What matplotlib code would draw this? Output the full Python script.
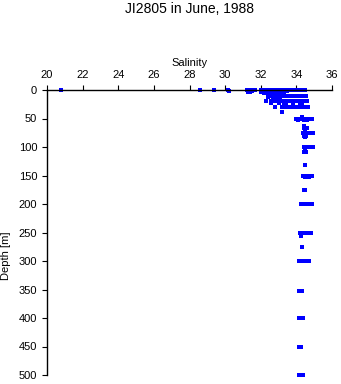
import matplotlib
matplotlib.use('Agg')
import matplotlib.pyplot as plt

plt.rcParams['font.family'] = ['Liberation Sans', 'DejaVu Sans']

# depth levels [m] and the salinities read at each level
depths = [0, 2, 4, 6, 8, 10, 12, 20, 23, 25, 30, 39, 47, 50, 53, 64, 67, 73, 76, 80, 83,
          100, 104, 108, 131, 150, 152, 175, 200, 250, 256, 275, 300, 352, 400, 450, 500]
salinities = [
    [20.8, 28.6, 29.4, 30.15, 31.2, 31.45, 31.65, 32.0, 32.15, 32.3, 32.45, 32.6, 32.75,
     32.9, 33.05, 33.2, 33.35, 33.5, 33.65, 33.8, 33.95, 34.1, 34.25, 34.4, 34.5],
    [30.2, 31.3, 31.5, 32.1, 32.3, 32.5, 32.7, 32.9, 33.1, 33.3, 33.5],
    [31.3, 31.4, 32.0, 32.2, 32.4, 32.6, 32.8, 33.0, 33.2, 33.3],
    [32.2, 32.4, 32.6, 32.8, 33.0, 33.2],
    [32.4, 32.5, 33.0, 33.1],
    [32.5, 32.6, 32.8, 33.0, 33.2, 33.4, 33.55, 33.7, 33.85, 34.0, 34.15, 34.3, 34.45, 34.55],
    [32.4, 32.7, 32.9, 33.1],
    [32.3, 32.6, 32.75, 32.9, 33.05, 33.2, 33.35, 33.5, 33.65, 33.8, 33.95, 34.1, 34.25,
     34.4, 34.55, 34.6],
    [32.6, 33.0, 33.4, 33.8, 34.3],
    [33.3, 33.4, 34.2],
    [32.8, 33.2, 33.35, 33.5, 33.65, 33.8, 33.95, 34.1, 34.25, 34.4, 34.55, 34.65],
    [33.2],
    [34.3],
    [34.0, 34.15, 34.3, 34.45, 34.6, 34.75, 34.9],
    [34.1, 34.4, 34.6],
    [34.45],
    [34.4, 34.5, 34.6],
    [34.5],
    [34.35, 34.5, 34.65, 34.8, 34.95],
    [34.45, 34.55],
    [34.5],
    [34.4, 34.55, 34.7, 34.85, 34.95],
    [34.5],
    [34.45, 34.55],
    [34.5],
    [34.35, 34.5, 34.65, 34.8, 34.9],
    [34.5, 34.7],
    [34.45, 34.5],
    [34.25, 34.4, 34.55, 34.7, 34.85, 34.9],
    [34.2, 34.35, 34.5, 34.65, 34.8],
    [34.25],
    [34.3],
    [34.15, 34.3, 34.45, 34.6, 34.7],
    [34.15, 34.3],
    [34.15, 34.3, 34.35],
    [34.15, 34.25],
    [34.15, 34.3, 34.35],
]
xticks = [20, 22, 24, 26, 28, 30, 32, 34, 36]
yticks = [0, 50, 100, 150, 200, 250, 300, 350, 400, 450, 500]

sal = []
dep = []
for d, s in zip(depths, salinities):
    sal += s
    dep += [d] * len(s)

fig = plt.figure(figsize=(3.41, 3.84), dpi=100)
ax = fig.add_axes([47 / 341, 1 - 375 / 384, 285 / 341, 285 / 384])

ax.plot(sal, dep, 's', color='#0000ff', ms=2.5, mew=0, clip_on=False)

ax.set_xlim(20, 36)
ax.set_ylim(500, 0)
ax.set_xticks(xticks)
ax.set_yticks(yticks)

for side in ['right', 'bottom']:
    ax.spines[side].set_visible(False)
for side in ['left', 'top']:
    ax.spines[side].set_linewidth(1.0)

ax.xaxis.tick_top()
ax.xaxis.set_label_position('top')
ax.tick_params(direction='out', length=3.6, width=0.8, labelsize=8, pad=3.5)

ax.set_xlabel('Salinity', fontsize=8, labelpad=3)
ax.set_ylabel('Depth [m]', fontsize=8)
ax.yaxis.set_label_coords(-0.125, 0.42)

fig.text(190 / 341, 1 - 9 / 384, 'JI2805 in June, 1988', ha='center', va='center', fontsize=10)

fig.savefig('out.png', dpi=100)
